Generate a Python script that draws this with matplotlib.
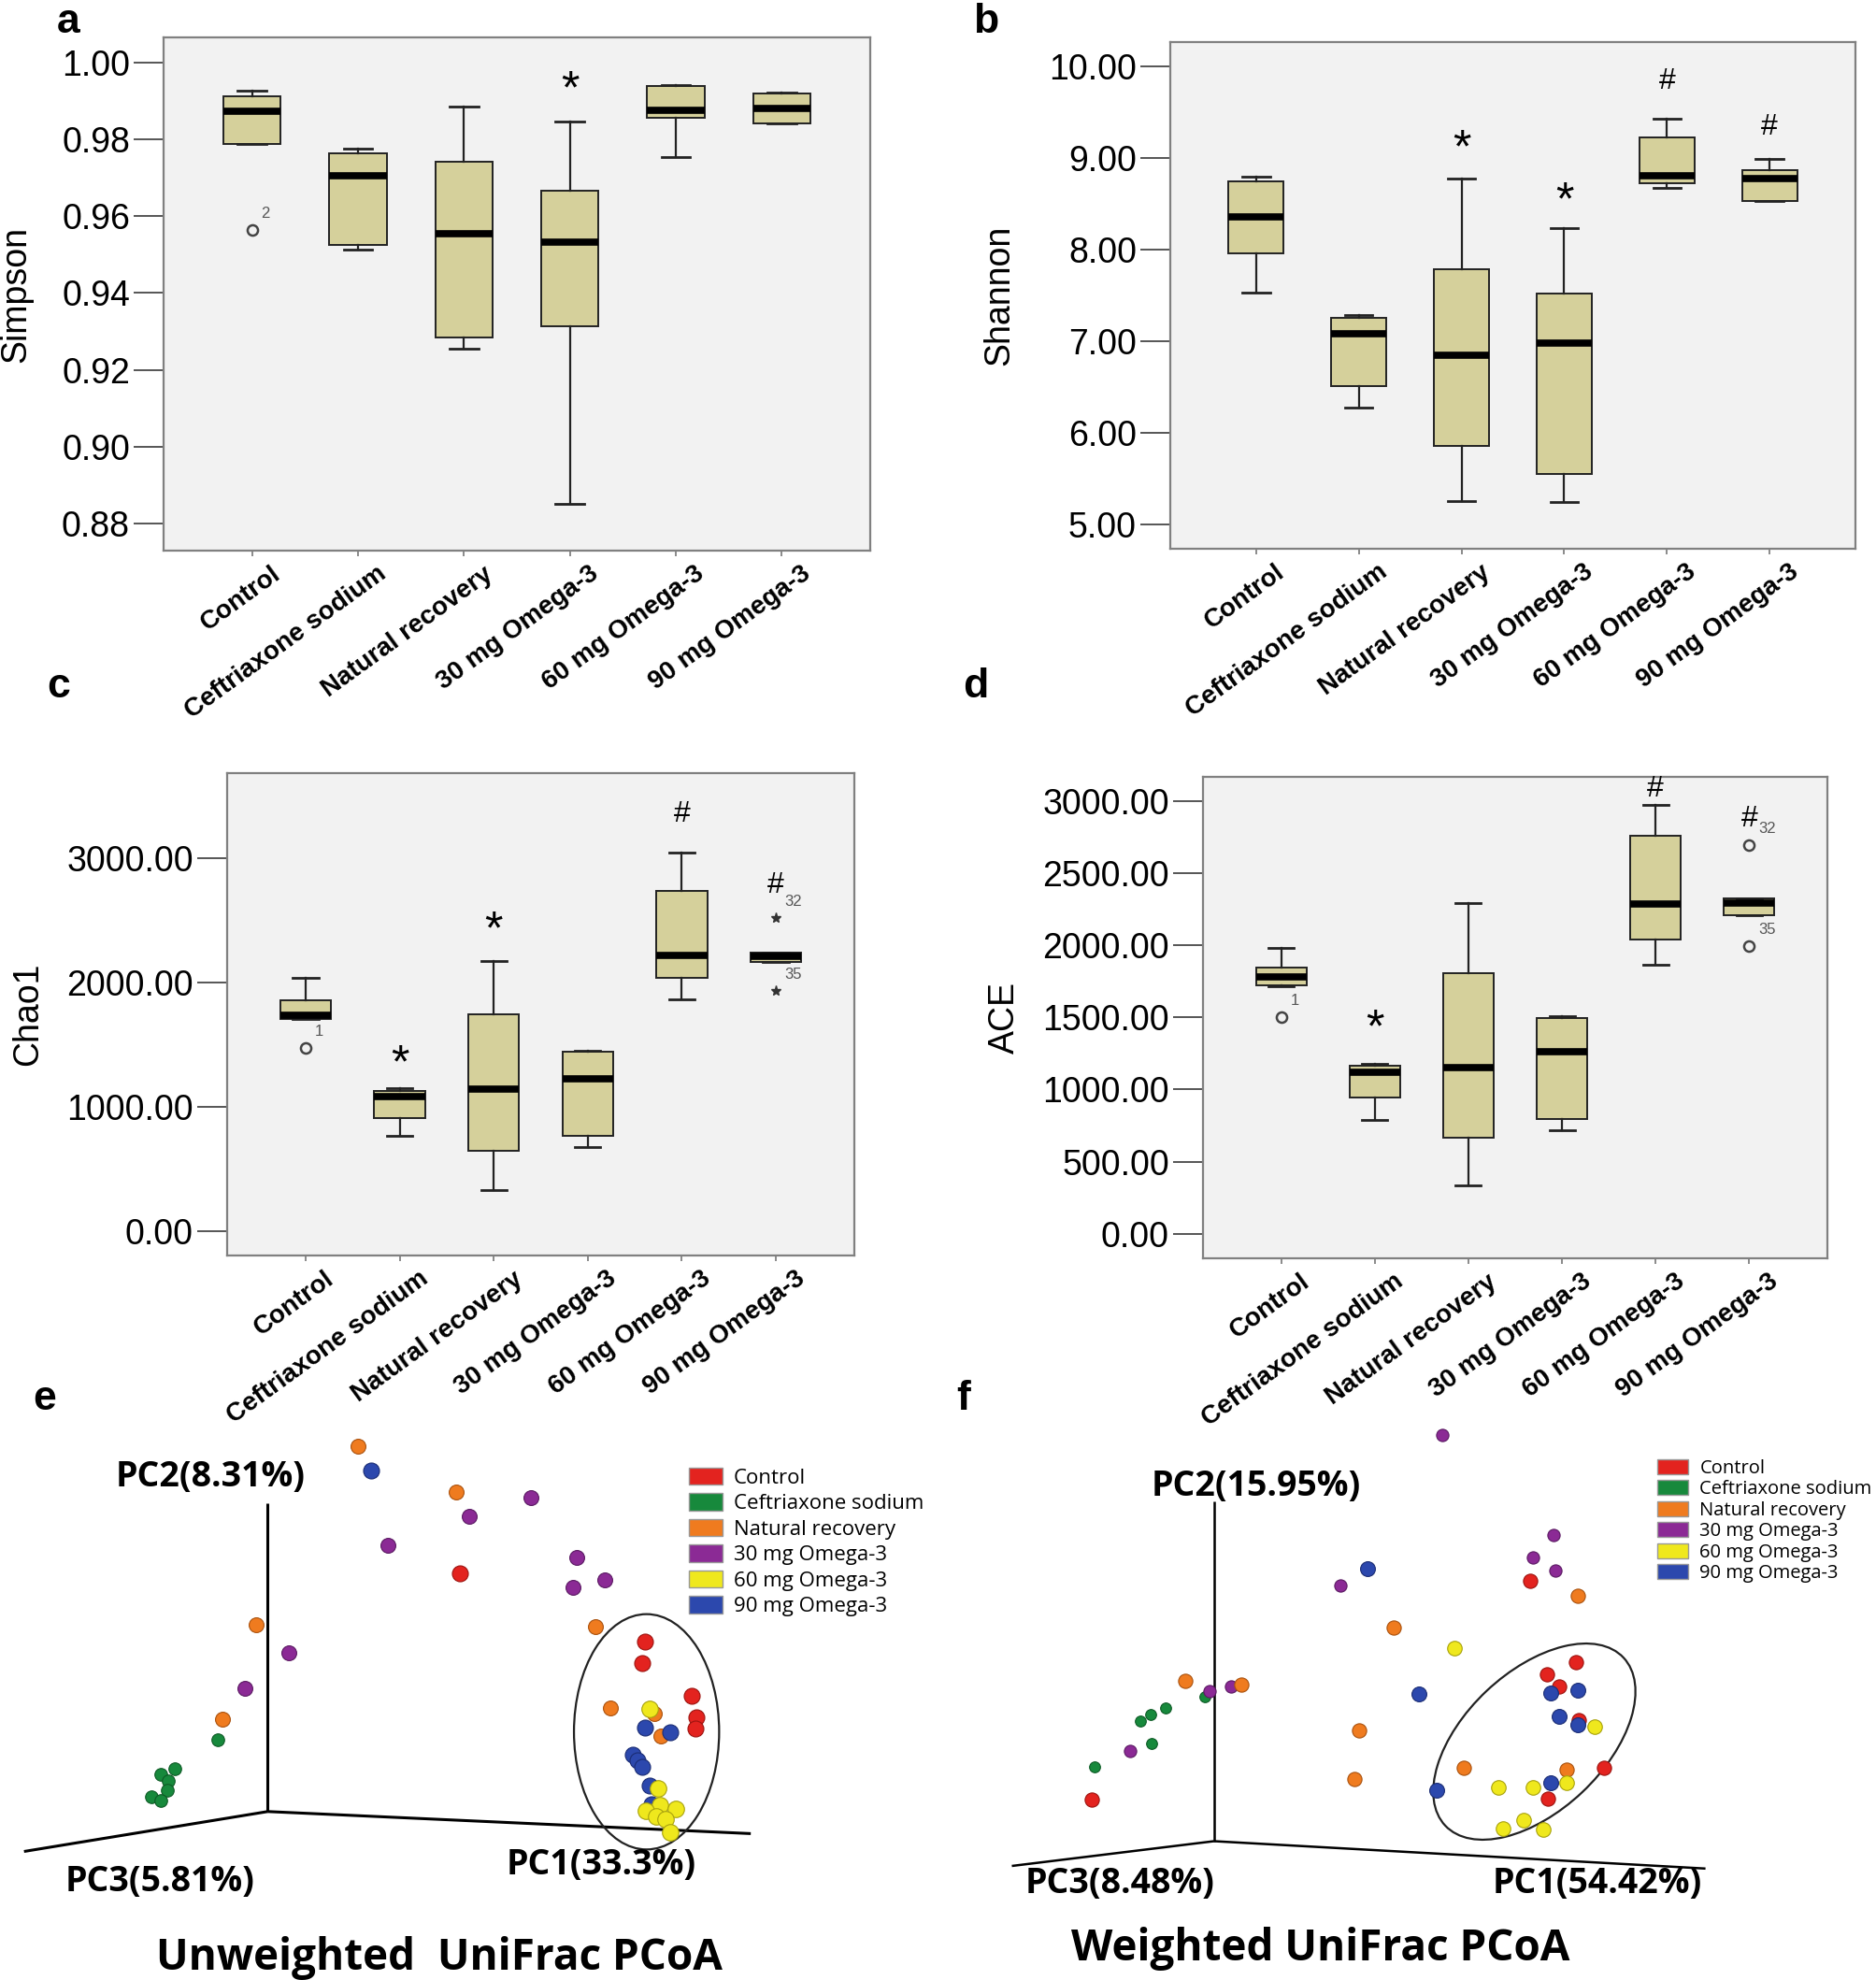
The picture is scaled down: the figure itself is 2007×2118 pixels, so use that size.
import matplotlib
matplotlib.use('Agg')
import matplotlib.pyplot as plt
from matplotlib.patches import Ellipse, Patch
from matplotlib.transforms import ScaledTranslation

plt.rcParams['font.family'] = ['Liberation Sans', 'DejaVu Sans']

groups = ['Control', 'Ceftriaxone sodium', 'Natural recovery',
          '30 mg Omega-3', '60 mg Omega-3', '90 mg Omega-3']

# ---- box plot summaries ----
# a  Simpson
simpson_hi = [0.9927, 0.9776, 0.9886, 0.9847, 0.9943, 0.9922]
simpson_q3 = [0.9912, 0.9765, 0.9743, 0.9667, 0.9939, 0.9920]
simpson_med = [0.9874, 0.9706, 0.9554, 0.9532, 0.9876, 0.9882]
simpson_q1 = [0.9789, 0.9526, 0.9284, 0.9313, 0.9856, 0.9842]
simpson_lo = [0.9789, 0.9514, 0.9254, 0.8850, 0.9755, 0.9842]
simpson_out = [(1, 0.9564, '2', 'o')]
simpson_marks = [(4, '*', 0.9927)]

# b  Shannon
shannon_hi = [8.795, 7.29, 8.78, 8.239, 9.43, 8.993]
shannon_q3 = [8.745, 7.257, 7.788, 7.52, 9.231, 8.869]
shannon_med = [8.363, 7.083, 6.845, 6.974, 8.81, 8.775]
shannon_q1 = [7.961, 6.508, 5.853, 5.546, 8.73, 8.532]
shannon_lo = [7.53, 6.275, 5.248, 5.243, 8.68, 8.532]
shannon_out = []
shannon_marks = [(3, '*', 9.09), (4, '*', 8.52), (5, '#', 9.84), (6, '#', 9.34)]

# c  Chao1
chao_hi = [2039, 1150, 2173, 1456, 3047, 2239]
chao_q3 = [1860, 1128, 1747, 1442, 2738, 2239]
chao_med = [1740, 1081, 1143, 1227, 2221, 2210]
chao_q1 = [1711, 914, 648, 772, 2039, 2170]
chao_lo = [1711, 772, 331, 681, 1864, 2170]
chao_out = [(1, 1474, '1', 'o'), (6, 2519, '32', '*'), (6, 1937, '35', '*')]
chao_marks = [(2, '*', 1336), (3, '*', 2410), (5, '#', 3356), (6, '#', 2781)]

# d  ACE
ace_hi = [1981, 1180, 2291, 1507, 2969, 2326]
ace_q3 = [1842, 1168, 1808, 1497, 2756, 2326]
ace_med = [1783, 1117, 1149, 1265, 2288, 2294]
ace_q1 = [1723, 945, 669, 797, 2037, 2207]
ace_lo = [1716, 791, 339, 719, 1864, 2207]
ace_out = [(1, 1503, '1', 'o'), (6, 2693, '32', 'o'), (6, 1996, '35', 'o')]
ace_marks = [(2, '*', 1416), (5, '#', 3079), (6, '#', 2875)]

# ---- PCoA scores as drawn (projected), group index into `groups` ----
unw_x = [0.965, 1.107, 2.014, 2.813, 2.156, 1.287, 2.060, 3.302, 3.263, 3.604,
         -0.129, 0.225, -0.245, -0.483, -0.534, -0.998, -1.139, -1.062, -1.075,
         -1.242, -1.139, 3.503, 4.036, 4.003, 4.536, 4.586, 4.576, 3.669, 4.086,
         4.136, 4.036, 4.303, 4.203, 3.903, 3.953, 4.003, 4.086, 4.176, 4.109,
         4.196, 4.043, 4.369, 4.153, 4.253, 4.303]
unw_y = [3.907, 3.650, 3.418, 3.357, 3.154, 2.849, 2.552, 2.714, 2.401, 2.474,
         1.994, 1.697, 1.323, 0.989, 0.765, 0.460, 0.395, 0.326, 0.224,
         0.155, 0.114, 1.978, 1.818, 1.588, 1.238, 1.011, 0.885, 1.111, 1.095,
         1.045, 0.901, 0.851, 0.805, 0.611, 0.551, 0.478, 0.278, 0.245, 0.078,
         0.071, 0.005, 0.028, -0.049, -0.082, -0.222]
unw_grp = [2, 5, 2, 3, 3, 3, 0, 3, 3, 3,
           2, 3, 3, 2, 1, 1, 1, 1, 1,
           1, 1, 2, 0, 0, 0, 0, 0, 2, 4,
           2, 5, 5, 2, 5, 5, 5, 5, 4, 5,
           4, 4, 4, 4, 4, 4]

w_x = [2.445, 3.636, 3.411, 3.649, 3.379, 3.889, 1.641, 1.351, 1.924, 2.572,
       -0.309, -0.052, 0.186, 0.289, -0.097, -0.515, -0.683, -0.792, -0.670,
       -1.281, -0.895, -1.307, 2.195, 1.551, 1.506, 2.669, 2.385, 3.872, 3.562,
       3.695, 3.605, 3.889, 3.689, 3.902, 3.895, 4.072, 3.772, 4.172, 3.045,
       3.412, 3.602, 3.772, 3.569, 3.312, 3.095, 3.519]
w_y = [4.346, 3.276, 3.035, 2.893, 2.787, 2.628, 2.917, 2.738, 2.287, 2.068,
       1.713, 1.607, 1.660, 1.680, 1.550, 1.428, 1.355, 1.282, 1.050,
       0.793, 0.968, 0.448, 1.578, 1.184, 0.663, 0.785, 0.545, 1.918, 1.785,
       1.655, 1.585, 1.618, 1.335, 1.295, 1.245, 1.228, 0.762, 0.785, 0.572,
       0.578, 0.622, 0.628, 0.455, 0.228, 0.135, 0.122]
w_grp = [3, 3, 3, 3, 0, 2, 5, 3, 2, 4,
         2, 3, 3, 2, 1, 1, 1, 1, 1,
         1, 3, 0, 5, 2, 2, 2, 5, 0, 0,
         0, 5, 5, 5, 0, 5, 4, 2, 0, 4,
         4, 5, 4, 0, 4, 4, 4]

BOX_FILL = '#d5d09b'
PANEL_BG = '#f2f2f2'
grp_colors = ['#e3231f', '#17893c', '#ef7b1f', '#8b2a95', '#efe81d', '#2c48ad']
grp_edges = ['#9c1410', '#0d5a25', '#a9520f', '#5a1a62', '#a8a20e', '#1b2d74']

W, H = 2008, 2118
fig = plt.figure(figsize=(W / 100, H / 100), dpi=100)


def frac(left, top, right, bottom):
    return [left / W, 1 - bottom / H, (right - left) / W, (bottom - top) / H]


def box_panel(rect, lo, q1, med, q3, hi, outliers, marks, ylim, yticks,
              ylabel, label_x):
    ax = fig.add_axes(rect)
    ax.set_facecolor(PANEL_BG)
    stats = [dict(whislo=lo[i], q1=q1[i], med=med[i], q3=q3[i], whishi=hi[i],
                  fliers=[]) for i in range(len(groups))]
    ax.bxp(stats, positions=range(1, 7), widths=0.54, capwidths=0.27,
           patch_artist=True, showfliers=False,
           boxprops=dict(facecolor=BOX_FILL, edgecolor='#222222', linewidth=1.4),
           medianprops=dict(color='black', linewidth=5.5, solid_capstyle='butt'),
           whiskerprops=dict(color='#222222', linewidth=1.6),
           capprops=dict(color='#222222', linewidth=2.0))
    for pos, val, case, mk in outliers:
        if mk == 'o':
            ax.plot(pos, val, 'o', ms=8, mfc='none', mec='#444444', mew=1.8)
        else:
            ax.plot(pos, val, '*', ms=8, color='#333333')
        ax.annotate(case, (pos, val), xytext=(7, 7), textcoords='offset points',
                    fontsize=12, color='#555555', ha='left', va='bottom')
    for pos, sym, val in marks:
        if sym == '*':
            ax.text(pos, val, sym, fontsize=36, ha='center', va='center')
        else:
            ax.text(pos, val, sym, fontsize=23, ha='center', va='center')
    ax.set_xlim(0.165, 6.835)
    ax.set_ylim(*ylim)
    ax.set_yticks(yticks)
    ax.yaxis.set_major_formatter('{x:.2f}')
    ax.tick_params(axis='y', length=23, width=1.4, color='#555555', pad=3,
                   labelsize=27)
    ax.tick_params(axis='x', length=4, width=1.2, color='#777777')
    ax.set_xticks(range(1, 7))
    ax.set_xticklabels(groups, rotation=36, ha='right', va='center',
                       rotation_mode='anchor', fontweight='bold', fontsize=20)
    shift = ScaledTranslation(0.28, -0.12, fig.dpi_scale_trans)
    for lbl in ax.get_xticklabels():
        lbl.set_transform(lbl.get_transform() + shift)
    for sp in ax.spines.values():
        sp.set_color('#808080')
        sp.set_linewidth(1.6)
    ax.set_ylabel(ylabel, fontsize=27)
    ax.yaxis.set_label_coords(label_x, 0.5)
    return ax


box_panel(frac(175, 40, 931, 589), simpson_lo, simpson_q1, simpson_med,
          simpson_q3, simpson_hi, simpson_out, simpson_marks,
          (0.8729, 1.0066), [0.88, 0.90, 0.92, 0.94, 0.96, 0.98, 1.00],
          'Simpson', -0.185)
box_panel(frac(1252, 45, 1985, 587), shannon_lo, shannon_q1, shannon_med,
          shannon_q3, shannon_hi, shannon_out, shannon_marks,
          (4.73, 10.27), [5, 6, 7, 8, 9, 10], 'Shannon', -0.224)
box_panel(frac(243, 827, 914, 1343), chao_lo, chao_q1, chao_med,
          chao_q3, chao_hi, chao_out, chao_marks,
          (-193, 3684), [0, 1000, 2000, 3000], 'Chao1', -0.29)
box_panel(frac(1287, 831, 1955, 1346), ace_lo, ace_q1, ace_med,
          ace_q3, ace_hi, ace_out, ace_marks,
          (-169, 3166), [0, 500, 1000, 1500, 2000, 2500, 3000], 'ACE', -0.29)


def pcoa_panel(rect, xlim, ylim, xs, ys, gs, axes_ends, ell, pc_labels,
               title, sizes, axis_lw):
    ax = fig.add_axes(rect)
    ax.set_xlim(*xlim)
    ax.set_ylim(*ylim)
    ax.axis('off')
    for (ex, ey) in axes_ends:
        ax.plot([0, ex], [0, ey], color='black', lw=axis_lw,
                solid_capstyle='butt', zorder=1)
    cx, cy, ew, eh, ang = ell
    ax.add_patch(Ellipse((cx, cy), ew, eh, angle=ang, fill=False,
                         edgecolor='#222222', lw=1.6, zorder=2))
    for g in [1, 3, 2, 0, 5, 4]:
        px = [x for x, k in zip(xs, gs) if k == g]
        py = [y for y, k in zip(ys, gs) if k == g]
        ax.scatter(px, py, s=sizes[g], c=grp_colors[g], edgecolors=grp_edges[g],
                   linewidths=0.8, zorder=3)
    for (tx, ty, txt) in pc_labels:
        ax.text(tx, ty, txt, family='Open Sans', fontweight='bold', fontsize=27,
                ha='center', va='center')
    tx, ty, txt = title
    ax.text(tx, ty, txt, family='Open Sans', fontweight='bold',
            fontsize=33, ha='center', va='center')
    return ax


pcoa_panel([0, 0, 0.5, 638 / H], (-2.864, 7.176), (-1.802, 4.578),
           unw_x, unw_y, unw_grp,
           [(0, 3.296), (-2.607, -0.427), (5.168, -0.236)],
           (4.053, 0.853, 1.553, 2.517, 0),
           [(-0.611, 3.581, 'PC2(8.31%)'), (-1.158, -0.752, 'PC3(5.81%)'),
            (3.572, -0.569, 'PC1(33.3%)')],
           (1.834, -1.566, 'Unweighted  UniFrac PCoA'),
           [150, 95, 130, 130, 160, 150], 2.2)
pcoa_panel([0.5, 0, 0.5, 638 / H], (-2.948, 7.092), (-1.485, 4.895),
           w_x, w_y, w_grp,
           [(0, 3.634), (-2.163, -0.265), (5.258, -0.293)],
           (3.427, 1.065, 2.62, 1.49, 43.3),
           [(0.450, 3.796, 'PC2(15.95%)'), (-1.004, -0.456, 'PC3(8.48%)'),
            (4.099, -0.456, 'PC1(54.42%)')],
           (1.139, -1.148, 'Weighted UniFrac PCoA'),
           [120, 70, 120, 90, 125, 130], 1.8)

handles = [Patch(facecolor=c, edgecolor='#999999', lw=1) for c in grp_colors]
fig.legend(handles, groups, loc='upper left', bbox_to_anchor=(737 / W, 1 - 1570 / H),
           frameon=False, borderpad=0, borderaxespad=0, handlelength=1.6,
           handleheight=0.9, handletextpad=0.55, labelspacing=0.25,
           prop=dict(family='Open Sans', size=16))
fig.legend(handles, groups, loc='upper left', bbox_to_anchor=(1773 / W, 1 - 1561 / H),
           frameon=False, borderpad=0, borderaxespad=0, handlelength=1.65,
           handleheight=0.85, handletextpad=0.6, labelspacing=0.12,
           prop=dict(family='Open Sans', size=14.5))

for letter, lx, ly in [('a', 61, 35), ('b', 1041, 35), ('c', 50, 746),
                       ('d', 1030, 746), ('e', 35, 1508), ('f', 1023, 1508)]:
    fig.text(lx / W, 1 - ly / H, letter, fontsize=32, fontweight='bold',
             ha='left', va='baseline')

fig.savefig('out.png', dpi=100)
